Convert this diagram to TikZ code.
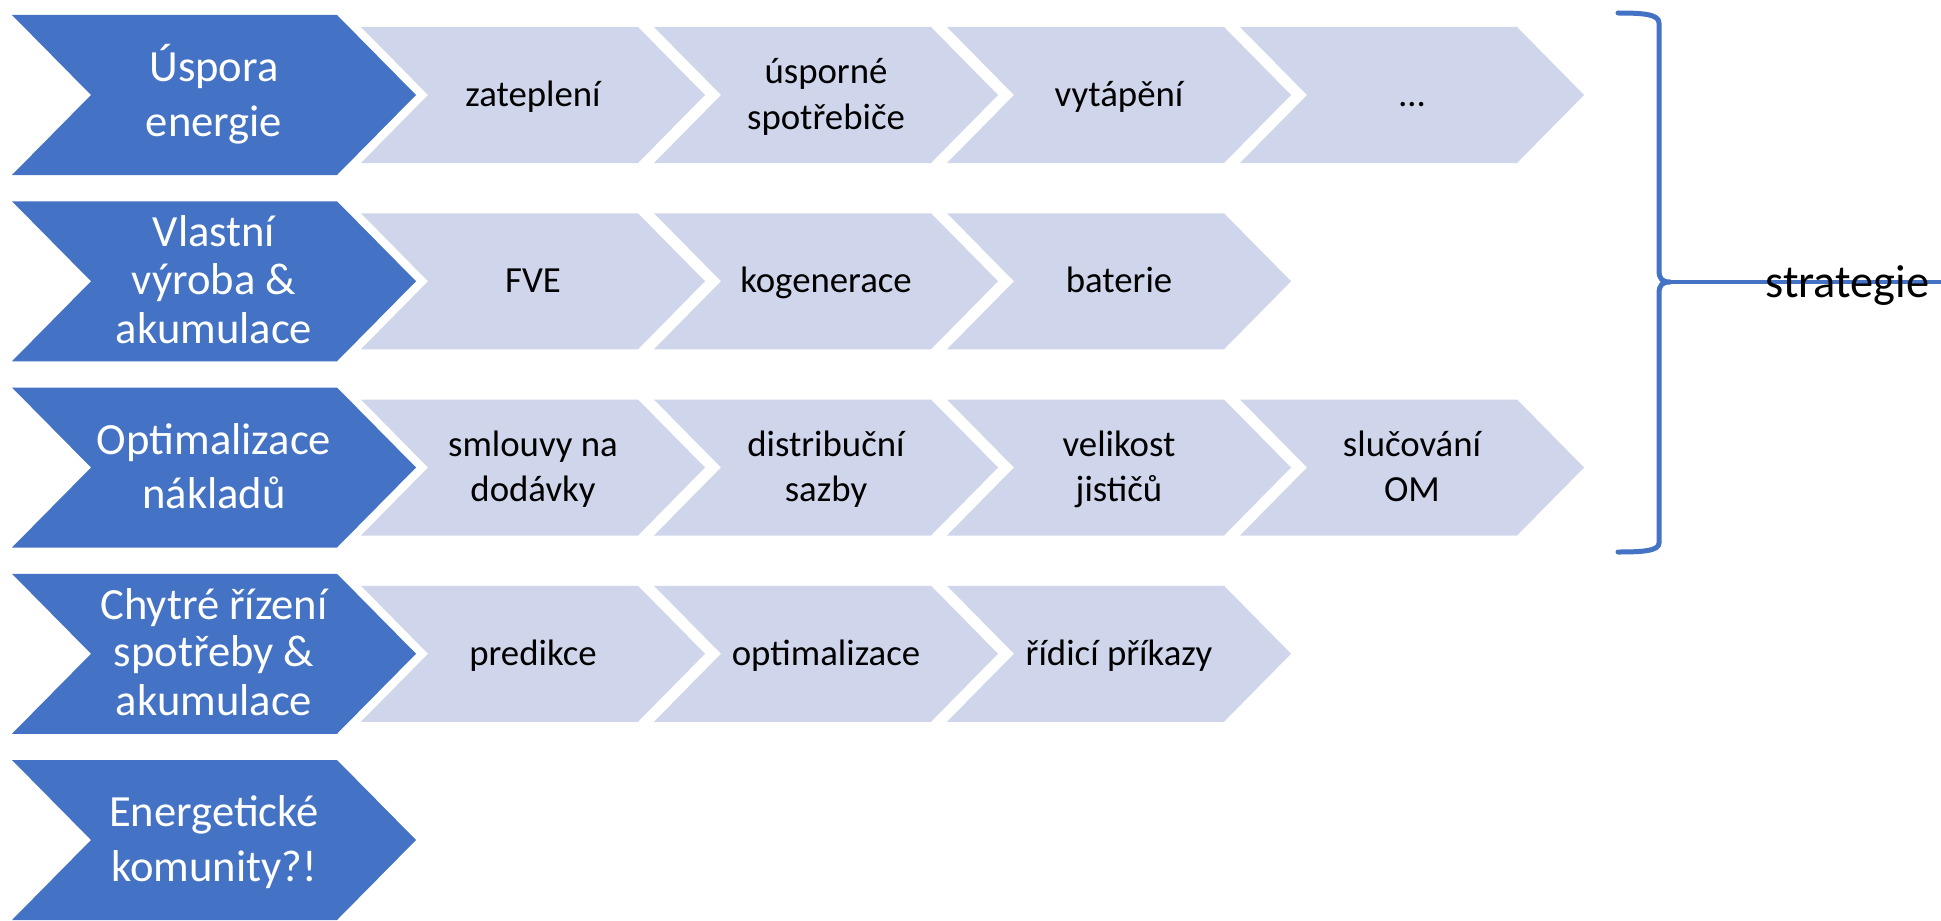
\documentclass[tikz,border=0pt]{standalone}
\usepackage{fontspec}
\setmainfont{Carlito}
\definecolor{cblue}{HTML}{4472C4}
\definecolor{clight}{HTML}{CFD5EA}
\newcommand\mystrut{\rule[-0.28em]{0pt}{1.18em}}
% #1 name, #2 left x, #3 top y, #4 total width, #5 depth, #6 height, #7 style, #8 text
\newcommand\mychev[8]{%
  \fill[#7] (#2,#3) -- ++(#4-#5,0) -- ++(#5,#6/2) -- ++(-#5,#6/2) -- ++(#5-#4,0) -- ++(#5,-#6/2) -- cycle;
  \node[#7 text] (#1) at (#2+#4/2,#3+#6/2) {\mystrut#8\mystrut};
}
\tikzset{
  bluechev/.style={fill=cblue},
  lightchev/.style={fill=clight},
  bluechev text/.style={text=white, align=center, inner sep=0pt, font=\fontsize{22.3pt}{23.6pt}\selectfont},
  lightchev text/.style={text=black, align=center, inner sep=0pt, font=\fontsize{18.4pt}{18.8pt}\selectfont},
  bracestyle/.style={draw=cblue, line width=2.5pt, line cap=round, line join=round},
  linkstyle/.style={draw=cblue, line width=1.7pt},
  labelstyle/.style={text=black, inner sep=0pt, font=\fontsize{23.2pt}{27pt}\selectfont}
}
\begin{document}
\begin{tikzpicture}[x=0.5pt,y=-0.5pt]
\useasboundingbox (0,0) rectangle (1941,920);
% row 1
\mychev{b1}{12}{15}{404}{79}{160}{bluechev}{Úspora\\energie}
\mychev{l11}{361}{27}{344}{67}{136}{lightchev}{zateplení}
\mychev{l12}{654}{27}{344}{67}{136}{lightchev}{úsporné\\spotřebiče}
\mychev{l13}{947}{27}{344}{67}{136}{lightchev}{vytápění}
\mychev{l14}{1240}{27}{344}{67}{136}{lightchev}{…}
% row 2
\mychev{b2}{12}{201.25}{404}{79}{160}{bluechev}{Vlastní\\výroba \&\\akumulace}
\mychev{l21}{361}{213.25}{344}{67}{136}{lightchev}{FVE}
\mychev{l22}{654}{213.25}{344}{67}{136}{lightchev}{kogenerace}
\mychev{l23}{947}{213.25}{344}{67}{136}{lightchev}{baterie}
% row 3
\mychev{b3}{12}{387.5}{404}{79}{160}{bluechev}{Optimalizace\\nákladů}
\mychev{l31}{361}{399.5}{344}{67}{136}{lightchev}{smlouvy na\\dodávky}
\mychev{l32}{654}{399.5}{344}{67}{136}{lightchev}{distribuční\\sazby}
\mychev{l33}{947}{399.5}{344}{67}{136}{lightchev}{velikost\\jističů}
\mychev{l34}{1240}{399.5}{344}{67}{136}{lightchev}{slučování\\OM}
% row 4
\mychev{b4}{12}{573.75}{404}{79}{160}{bluechev}{Chytré řízení\\spotřeby \&\\akumulace}
\mychev{l41}{361}{585.75}{344}{67}{136}{lightchev}{predikce}
\mychev{l42}{654}{585.75}{344}{67}{136}{lightchev}{optimalizace}
\mychev{l43}{947}{585.75}{344}{67}{136}{lightchev}{řídicí příkazy}
% row 5
\mychev{b5}{12}{760}{404}{79}{160}{bluechev}{Energetické\\komunity?!}
% brace
\coordinate (bt) at (1670,282);
\coordinate (lend) at (1941,282);
\draw[bracestyle] (1618,13) .. controls (1642,13) and (1659,14) .. (1659,23) -- (1659,270)
  .. controls (1659,279) and (1662,282) .. (bt)
  .. controls (1662,282) and (1659,285) .. (1659,294) -- (1659,543)
  .. controls (1659,551) and (1642,552) .. (1618,552);
\draw[linkstyle] (bt) -- (lend);
\node[labelstyle, anchor=base west] (strat) at (1765,297) {strategie};
\end{tikzpicture}
\end{document}
